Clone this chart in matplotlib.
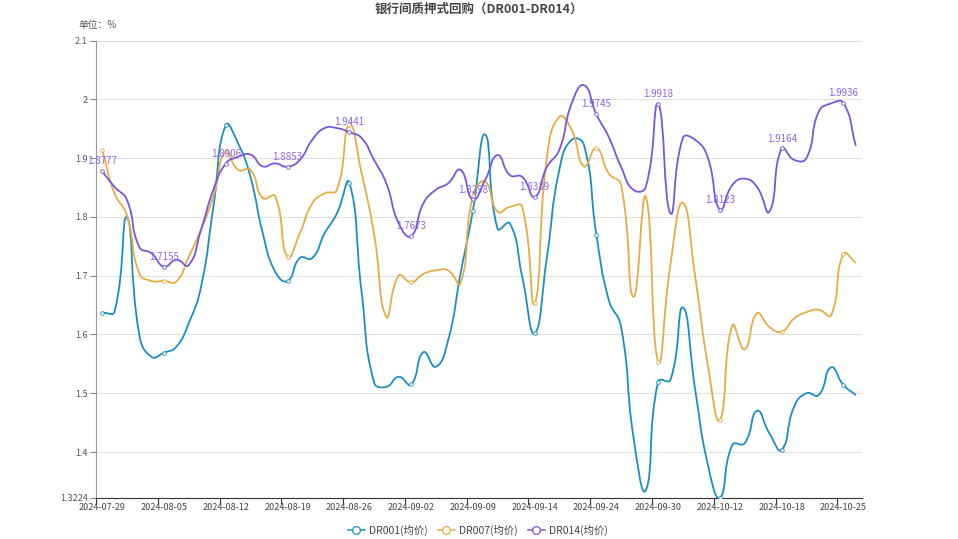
import numpy as np
import matplotlib
matplotlib.use('Agg')
import matplotlib.pyplot as plt
from matplotlib.path import Path
from matplotlib.patches import PathPatch
from matplotlib.lines import Line2D

plt.rcParams['font.family'] = ['Noto Sans CJK SC', 'DejaVu Sans']

dates = ['2024-07-29', '2024-07-30', '2024-07-31', '2024-08-01', '2024-08-02',
         '2024-08-05', '2024-08-06', '2024-08-07', '2024-08-08', '2024-08-09',
         '2024-08-12', '2024-08-13', '2024-08-14', '2024-08-15', '2024-08-16',
         '2024-08-19', '2024-08-20', '2024-08-21', '2024-08-22', '2024-08-23',
         '2024-08-26', '2024-08-27', '2024-08-28', '2024-08-29', '2024-08-30',
         '2024-09-02', '2024-09-03', '2024-09-04', '2024-09-05', '2024-09-06',
         '2024-09-09', '2024-09-10', '2024-09-11', '2024-09-12', '2024-09-13',
         '2024-09-14', '2024-09-18', '2024-09-19', '2024-09-20', '2024-09-23',
         '2024-09-24', '2024-09-25', '2024-09-26', '2024-09-27', '2024-09-29',
         '2024-09-30', '2024-10-08', '2024-10-09', '2024-10-10', '2024-10-11',
         '2024-10-12', '2024-10-14', '2024-10-15', '2024-10-16', '2024-10-17',
         '2024-10-18', '2024-10-21', '2024-10-22', '2024-10-23', '2024-10-24',
         '2024-10-25', '2024-10-28']

dr001 = [1.637, 1.639, 1.799, 1.600, 1.562, 1.569, 1.579, 1.619, 1.681, 1.817,
         1.956, 1.925, 1.868, 1.772, 1.707, 1.691, 1.730, 1.730, 1.772, 1.806,
         1.858, 1.672, 1.519, 1.511, 1.528, 1.515, 1.570, 1.545, 1.590, 1.703,
         1.810, 1.940, 1.780, 1.789, 1.698, 1.602, 1.732, 1.880, 1.931, 1.922,
         1.770, 1.659, 1.613, 1.426, 1.335, 1.520, 1.523, 1.646, 1.506, 1.381,
         1.3224, 1.412, 1.415, 1.470, 1.432, 1.404, 1.477, 1.500, 1.497, 1.544,
         1.514, 1.497]

dr007 = [1.914, 1.840, 1.803, 1.704, 1.691, 1.691, 1.690, 1.732, 1.778, 1.835,
         1.911, 1.880, 1.880, 1.832, 1.835, 1.732, 1.772, 1.823, 1.840, 1.846,
         1.957, 1.874, 1.772, 1.630, 1.700, 1.689, 1.703, 1.709, 1.709, 1.687,
         1.835, 1.860, 1.809, 1.817, 1.817, 1.653, 1.902, 1.970, 1.948, 1.886,
         1.917, 1.874, 1.854, 1.664, 1.834, 1.554, 1.720, 1.824, 1.698, 1.551,
         1.455, 1.615, 1.575, 1.636, 1.613, 1.605, 1.627, 1.638, 1.642, 1.633,
         1.737, 1.722]

dr014 = [1.8777, 1.851, 1.829, 1.749, 1.738, 1.7155, 1.727, 1.718, 1.778, 1.846,
         1.8906, 1.902, 1.906, 1.886, 1.891, 1.8853, 1.897, 1.931, 1.951, 1.951,
         1.9441, 1.934, 1.897, 1.857, 1.789, 1.7673, 1.823, 1.846, 1.857, 1.880,
         1.8298, 1.863, 1.905, 1.871, 1.868, 1.8339, 1.885, 1.914, 1.993, 2.024,
         1.9745, 1.936, 1.885, 1.846, 1.851, 1.9918, 1.806, 1.934, 1.931, 1.902,
         1.8123, 1.854, 1.865, 1.851, 1.809, 1.9164, 1.897, 1.900, 1.979, 1.993,
         1.9936, 1.921]

series = [('DR001(均价)', dr001, '#1b8ec2'),
          ('DR007(均价)', dr007, '#e6ac45'),
          ('DR014(均价)', dr014, '#7a55dd')]

W, H = 958, 539
fig = plt.figure(figsize=(W / 100, H / 100), dpi=100)
ax = fig.add_axes([96 / W, 41.3 / H, 766 / W, 457.2 / H])

n = len(dates)
x = np.arange(n)
ymin = min(dr001)
ymax = 2.1
ax.set_xlim(-0.5, n - 0.5)
ax.set_ylim(ymin, ymax)

# pixel scale, used for echarts-like smoothing
sx = 766 / n
sy = 457.2 / (ymax - ymin)


def smooth_path(xs, ys, smooth=0.5):
    px = np.asarray(xs, float) * sx
    py = np.asarray(ys, float) * sy
    m = len(px)
    cps = []
    for i in range(m):
        p = np.array([px[i], py[i]])
        prev = np.array([px[max(i - 1, 0)], py[max(i - 1, 0)]])
        nxt = np.array([px[min(i + 1, m - 1)], py[min(i + 1, m - 1)]])
        v = (nxt - prev) * smooth
        d0 = np.hypot(*(p - prev))
        d1 = np.hypot(*(p - nxt))
        s = d0 + d1
        if s > 0:
            d0, d1 = d0 / s, d1 / s
        cps.append((p - v * d0, p + v * d1))
    verts = [(px[0], py[0])]
    codes = [Path.MOVETO]
    for i in range(m - 1):
        c1 = cps[i][1]
        c2 = cps[i + 1][0]
        verts += [tuple(c1), tuple(c2), (px[i + 1], py[i + 1])]
        codes += [Path.CURVE4] * 3
    verts = np.array(verts)
    verts[:, 0] /= sx
    verts[:, 1] /= sy
    return Path(verts, codes)


for name, vals, color in series:
    patch = PathPatch(smooth_path(x, vals), facecolor='none', edgecolor=color,
                      lw=1.3, zorder=3)
    ax.add_patch(patch)
    idx = x[::5]
    ax.plot(idx, np.array(vals)[idx], 'o', ms=2.6, mfc='white', mec=color,
            mew=0.6, zorder=4, ls='none')

for i in range(0, n, 5):
    ax.annotate(f'{dr014[i]:.4f}', (i, dr014[i]), xytext=(0, 3.5),
                textcoords='offset points', ha='center', va='bottom',
                fontsize=7, color='#8a66e6', zorder=5)

# axes styling
yt = [1.4, 1.5, 1.6, 1.7, 1.8, 1.9, 2.0, 2.1]
ax.set_yticks([ymin] + yt)
ax.set_yticklabels(['1.3224', '1.4', '1.5', '1.6', '1.7', '1.8', '1.9', '2', '2.1'])
ax.grid(axis='y', color='#e0e0e0', lw=0.8)
ax.set_axisbelow(True)

ax.set_xticks(np.arange(0, n, 5) - 0.5, minor=False)
ax.set_xticklabels([])
ax.set_xticks(np.arange(0, n, 5), minor=True)
ax.set_xticklabels([dates[i] for i in range(0, n, 5)], minor=True)
ax.tick_params(axis='x', which='minor', length=0, labelsize=6.5, colors='#444444', pad=4)
ax.tick_params(axis='x', which='major', length=4, color='#333333')
ax.tick_params(axis='y', length=4, labelsize=6.5, colors='#555555', pad=2, color='#888888')

for s in ['top', 'right']:
    ax.spines[s].set_visible(False)
ax.spines['left'].set_color('#999999')
ax.spines['bottom'].set_color('#333333')

fig.text(479 / W, 1 - 9 / H, '银行间质押式回购（DR001-DR014）', ha='center', va='center',
         fontsize=9, fontweight='bold', color='#464646')
fig.text(78 / W, 1 - 25 / H, '单位：%', ha='left', va='center', fontsize=7,
         color='#555555')

handles = [Line2D([0], [0], color=c, lw=1.1, marker='o', ms=5.5, mfc='white', mec=c, mew=0.9)
           for _, _, c in series]
fig.legend(handles, [s[0] for s in series], loc='center', bbox_to_anchor=(478 / W, 1 - 530 / H),
           ncol=3, frameon=False, fontsize=7.5, handlelength=1.6, handletextpad=0.4,
           columnspacing=1.0, labelcolor='#444444')

fig.savefig('out.png', dpi=100)
